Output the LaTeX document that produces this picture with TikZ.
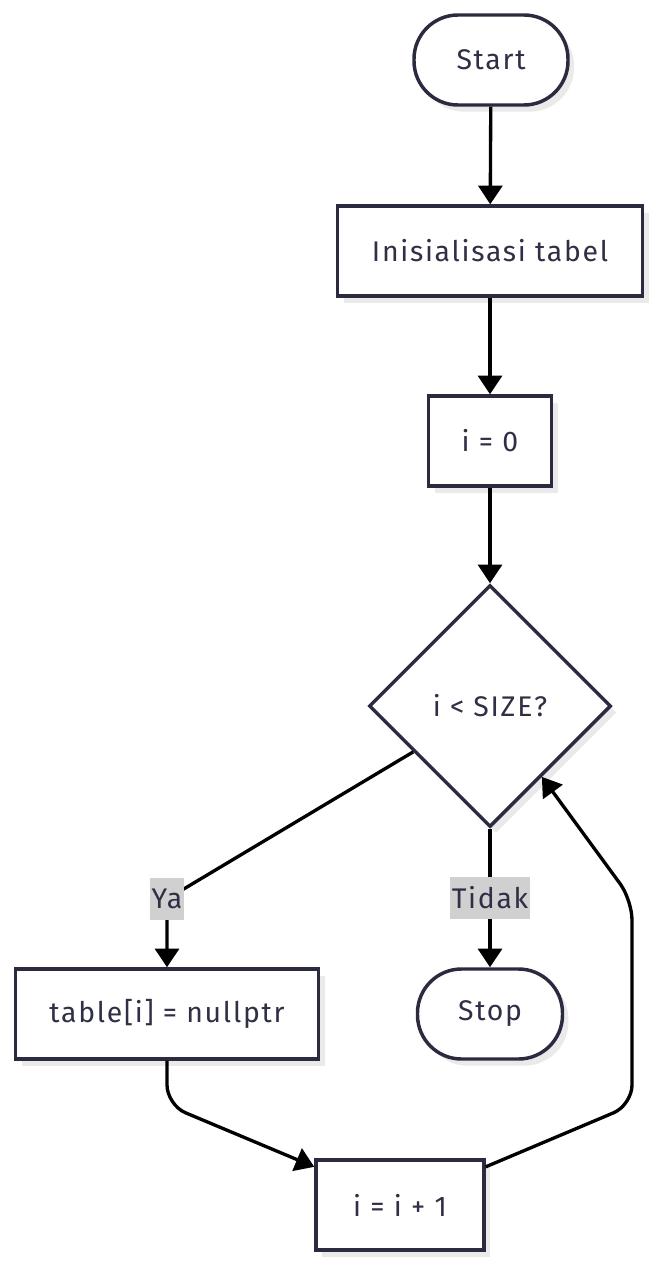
\documentclass[tikz,border=0pt]{standalone}
\usepackage{fontspec}
\setmainfont{Fira Sans}[LetterSpace=6]
\usetikzlibrary{positioning, arrows.meta, shapes.geometric, shadows}
\definecolor{nodeline}{HTML}{2B2B40}
\definecolor{nodetext}{HTML}{2F2F45}
\definecolor{labelbg}{HTML}{D0D0D0}
\definecolor{shadowgray}{HTML}{EAEAEA}

\begin{document}
\begin{tikzpicture}[x=0.75pt, y=-0.75pt,
  base/.style={draw=nodeline, line width=2.6pt, fill=white, text=nodetext,
    font=\fontsize{21.3}{25}\selectfont, minimum height=67.5pt, inner sep=0pt,
    drop shadow={shadow xshift=4.5pt, shadow yshift=-5pt, fill=shadowgray, opacity=1}},
  terminal/.style={base, rounded corners=33pt},
  procbox/.style={base, rectangle},
  decision/.style={base, diamond, aspect=1, minimum width=181.5pt, minimum height=181.5pt},
  flow/.style={draw=black, line width=2.5pt, -{Triangle[length=14pt, width=18pt]}},
  lbl/.style={fill=labelbg, text=nodetext, font=\fontsize{21.3}{25}\selectfont,
    inner xsep=1pt, inner ysep=0pt, minimum height=31.5pt}]
  \useasboundingbox (0,0) rectangle (660,1266);

  % nodes
  \node[terminal, minimum width=115.5pt] (start) at (491,60) {Start};
  \node[procbox, minimum width=228.75pt] (init) at (490,251) {Inisialisasi tabel};
  \node[procbox, minimum width=92.25pt] (izero) at (490,441) {i = 0};
  \node[decision] (cond) at (490,706) {i < SIZE?};
  \node[procbox, minimum width=227.25pt] (settbl) at (167,1014) {table[i] = nullptr};
  \node[terminal, minimum width=108.75pt] (stop) at (490,1014) {Stop};
  \node[procbox, minimum width=126pt] (inc) at (400,1205) {i = i + 1};

  % bends
  \coordinate (yapos) at (167,899);
  \coordinate (bendA) at (167,1105);
  \coordinate (bendB) at (632,1105);
  \coordinate (bendC) at (632,900);

  % edges
  \draw[flow] (start) -- (init);
  \draw[flow] (init) -- (izero);
  \draw[flow] (izero) -- (cond);
  \draw[flow] (cond) -- (yapos) node[lbl] {Ya} -- (settbl);
  \draw[flow] (cond) -- node[lbl] {Tidak} (stop);
  \draw[flow, rounded corners=15pt] (settbl) -- (bendA) -- (inc.156);
  \draw[flow, rounded corners=15pt] (inc.24) -- (bendB) -- (bendC) -- (cond);
\end{tikzpicture}
\end{document}
